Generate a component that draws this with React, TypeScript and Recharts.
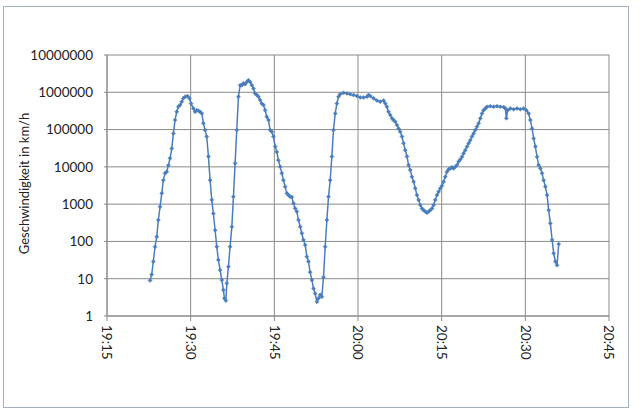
import React from "react";
import {CartesianGrid, Line, LineChart, XAxis, YAxis} from "recharts";

// Zeitpunkte der Messungen (hh:mm:ss)
const times = [
  "19:22:43", "19:23:01", "19:23:18", "19:23:37", "19:23:55", "19:24:12", "19:24:31", "19:24:49",
  "19:25:06", "19:25:24", "19:25:43", "19:26:00", "19:26:18", "19:26:37", "19:26:54", "19:27:12",
  "19:27:30", "19:27:48", "19:28:06", "19:28:24", "19:28:41", "19:29:00", "19:29:25", "19:29:46",
  "19:30:04", "19:30:29", "19:30:47", "19:31:06", "19:31:23", "19:31:41", "19:32:00", "19:32:17",
  "19:32:35", "19:32:53", "19:33:11", "19:33:29", "19:33:47", "19:34:04", "19:34:23", "19:34:41",
  "19:34:58", "19:35:17", "19:35:35", "19:35:52", "19:36:03", "19:36:18", "19:36:29", "19:36:46",
  "19:37:04", "19:37:23", "19:37:40", "19:37:58", "19:38:16", "19:38:34", "19:38:52", "19:39:10",
  "19:39:27", "19:39:46", "19:40:04", "19:40:21", "19:40:40", "19:40:58", "19:41:15", "19:41:33",
  "19:41:52", "19:42:09", "19:42:27", "19:42:45", "19:43:03", "19:43:21", "19:43:39", "19:43:57",
  "19:44:15", "19:44:33", "19:44:50", "19:45:09", "19:45:27", "19:45:44", "19:46:03", "19:46:21",
  "19:46:38", "19:46:56", "19:47:15", "19:47:32", "19:47:50", "19:48:08", "19:48:26", "19:48:44",
  "19:49:02", "19:49:20", "19:49:38", "19:49:56", "19:50:13", "19:50:32", "19:50:50", "19:51:07",
  "19:51:25", "19:51:44", "19:52:01", "19:52:19", "19:52:38", "19:52:55", "19:53:13", "19:53:31",
  "19:53:49", "19:54:07", "19:54:25", "19:54:43", "19:55:01", "19:55:19", "19:55:36", "19:55:55",
  "19:56:13", "19:56:30", "19:56:48", "19:57:24", "19:58:01", "19:58:36", "19:59:12", "19:59:48",
  "20:00:24", "20:00:59", "20:01:36", "20:01:53", "20:02:11", "20:02:47", "20:03:24", "20:03:59",
  "20:04:35", "20:04:53", "20:05:11", "20:05:28", "20:05:47", "20:06:05", "20:06:22", "20:06:41",
  "20:06:59", "20:07:16", "20:07:34", "20:07:53", "20:08:10", "20:08:28", "20:08:47", "20:09:04",
  "20:09:22", "20:09:40", "20:09:58", "20:10:16", "20:10:34", "20:10:52", "20:11:10", "20:11:28",
  "20:11:45", "20:12:04", "20:12:22", "20:12:39", "20:12:57", "20:13:16", "20:13:33", "20:13:51",
  "20:14:10", "20:14:27", "20:14:45", "20:15:03", "20:15:21", "20:15:39", "20:15:57", "20:16:14",
  "20:16:33", "20:16:51", "20:17:08", "20:17:27", "20:17:45", "20:18:02", "20:18:20", "20:18:39",
  "20:18:56", "20:19:14", "20:19:33", "20:19:50", "20:20:08", "20:20:26", "20:20:44", "20:21:02",
  "20:21:20", "20:21:38", "20:21:56", "20:22:14", "20:22:31", "20:22:50", "20:23:08", "20:23:43",
  "20:24:19", "20:24:56", "20:25:31", "20:26:07", "20:26:25", "20:26:36", "20:26:50", "20:27:19",
  "20:27:54", "20:28:31", "20:29:06", "20:29:42", "20:30:11", "20:30:36", "20:30:54", "20:31:12",
  "20:31:30", "20:31:48", "20:32:06", "20:32:23", "20:32:42", "20:33:00", "20:33:17", "20:33:35",
  "20:33:54", "20:34:11", "20:34:29", "20:34:48", "20:35:05", "20:35:23", "20:35:41", "20:35:59",
];

// Geschwindigkeit in km/h
const speeds = [
  9, 13, 29, 72, 133, 375, 850, 1950,
  4400, 6700, 7400, 11000, 17000, 31000, 79000, 180000,
  300000, 410000, 455000, 560000, 690000, 760000, 790000, 690000,
  500000, 370000, 300000, 330000, 320000, 300000, 270000, 148000,
  97000, 65000, 19000, 4400, 1300, 560, 200, 72,
  32, 17, 9.2, 5, 3, 2.6, 7.5, 21,
  72, 247, 1580, 12400, 97000, 760000, 1550000, 1550000,
  1740000, 1650000, 1900000, 2100000, 1900000, 1550000, 1260000, 930000,
  840000, 760000, 620000, 500000, 455000, 330000, 220000, 180000,
  97000, 87000, 65000, 35000, 25000, 15000, 10000, 6700,
  4400, 2950, 1950, 1750, 1580, 1550, 1050, 770,
  630, 375, 247, 165, 110, 80, 39, 29,
  15, 9.2, 5.5, 4, 2.4, 3, 3.7, 3.3,
  11, 72, 375, 1580, 4400, 19000, 97000, 270000,
  500000, 760000, 890000, 970000, 930000, 890000, 840000, 800000,
  730000, 730000, 760000, 840000, 800000, 690000, 600000, 560000,
  600000, 500000, 410000, 300000, 245000, 200000, 180000, 162000,
  132000, 107000, 87000, 65000, 43000, 28000, 19000, 11200,
  8200, 5400, 4000, 2650, 1750, 1300, 950, 770,
  690, 630, 590, 630, 690, 770, 950, 1300,
  1750, 2150, 2650, 3100, 4000, 5400, 7400, 8600,
  9100, 9800, 9100, 10000, 11200, 13800, 15800, 18600,
  23000, 28000, 35000, 43000, 52000, 65000, 79000, 97000,
  120000, 148000, 200000, 270000, 330000, 370000, 410000, 425000,
  410000, 425000, 410000, 400000, 370000, 200000, 330000, 370000,
  350000, 370000, 350000, 370000, 330000, 270000, 180000, 107000,
  58000, 35000, 18600, 11200, 9100, 6700, 4400, 2950,
  1750, 690, 305, 110, 48, 29, 23, 85,
];

const xTicks = ["19:15", "19:30", "19:45", "20:00", "20:15", "20:30", "20:45"];
const yTicks = [1, 10, 100, 1000, 10000, 100000, 1000000, 10000000];

const toSec = (s: string) => {
  const [h, m, sec = "0"] = s.split(":");
  return Number(h) * 3600 + Number(m) * 60 + Number(sec);
};

const fmtTime = (v: number) => {
  const h = Math.floor(v / 3600);
  const m = Math.round((v % 3600) / 60);
  return `${h}:${String(m).padStart(2, "0")}`;
};

const data = times.map((t, i) => ({t: toSec(t), v: speeds[i]}));

const FONT = "Lato, 'Open Sans', sans-serif";
const GRID = "#8a8a8a";
const BLUE = "#4a7ebb";

function RotatedTick(props: any) {
  const {x, y, payload} = props;
  const ty = y + 2;
  return (
    <text
      x={x}
      y={ty}
      dy="0.35em"
      transform={`rotate(90, ${x}, ${ty})`}
      textAnchor="start"
      fontSize={13.5}
      fontFamily={FONT}
      fill="#222">
      {fmtTime(payload.value)}
    </text>
  );
}

function Diamond(props: any) {
  const {cx, cy} = props;
  if (cx == null || cy == null) return null;
  const r = 2;
  return (
    <path
      d={`M${cx},${cy - r}L${cx + r},${cy}L${cx},${cy + r}L${cx - r},${cy}Z`}
      fill={BLUE}
      stroke={BLUE}
      strokeWidth={0.5}
    />
  );
}

function YLabel(props: any) {
  const {viewBox} = props;
  const cy = viewBox.y + viewBox.height / 2 - 2;
  return (
    <text
      x={24}
      y={cy}
      transform={`rotate(-90, 24, ${cy})`}
      textAnchor="middle"
      dominantBaseline="central"
      fontSize={13}
      fontFamily={FONT}
      fill="#222">
      Geschwindigkeit in km/h
    </text>
  );
}

export default function App() {
  return (
    <div
      style={{
        position: "absolute",
        left: 0,
        top: 0,
        width: 640,
        height: 417,
        background: "#fff",
      }}>
      <div
        style={{
          position: "absolute",
          left: 3,
          top: 6,
          width: 624,
          height: 400,
          border: "1px solid #a3afbf",
        }}
      />
      <LineChart
        width={640}
        height={417}
        data={data}
        margin={{top: 55, right: 31, bottom: 0, left: 0}}>
        <CartesianGrid stroke={GRID} strokeWidth={1} />
        <XAxis
          type="number"
          dataKey="t"
          domain={[toSec(xTicks[0]), toSec(xTicks[xTicks.length - 1])]}
          ticks={xTicks.map(toSec)}
          height={101}
          stroke={GRID}
          tickSize={5}
          tick={<RotatedTick />}
          interval={0}
        />
        <YAxis
          scale="log"
          domain={[1, 10000000]}
          ticks={yTicks}
          allowDataOverflow
          width={107}
          stroke={GRID}
          tickSize={3}
          tickMargin={11}
          interval={0}
          tick={{fontSize: 13.5, fontFamily: FONT, fill: "#222"}}
          label={<YLabel />}
        />
        <Line
          type="linear"
          dataKey="v"
          stroke={BLUE}
          strokeWidth={1.5}
          dot={<Diamond />}
          isAnimationActive={false}
        />
      </LineChart>
    </div>
  );
}
